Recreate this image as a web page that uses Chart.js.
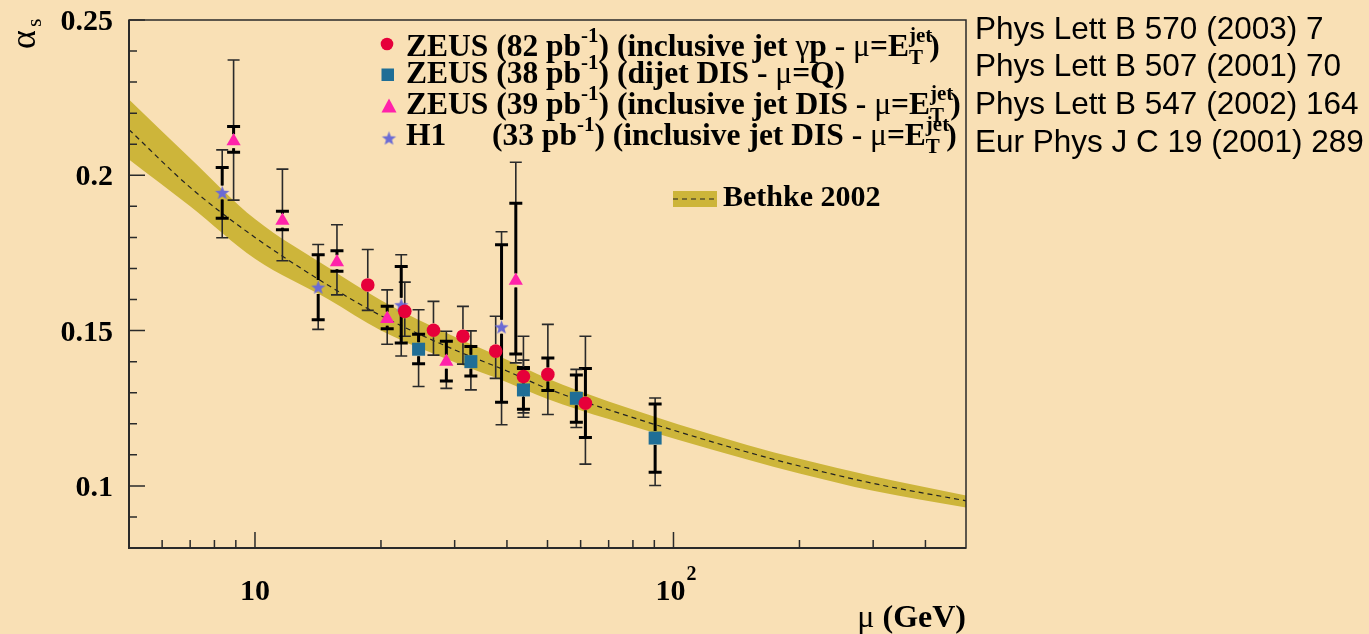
<!DOCTYPE html>
<html>
<head>
<meta charset="utf-8">
<script src="https://cdn.jsdelivr.net/npm/chart.js@4.4.0/dist/chart.umd.min.js"></script>
<style>
  html, body { margin: 0; padding: 0; background: #F9E0B5; }
  canvas { display: block; }
</style>
</head>
<body>
<canvas id="c" width="1369" height="634"></canvas>
<script>
'use strict';

// ── Bethke 2002 band ────────────────────────────────────────
const BAND_MU  = [5, 7, 10, 15, 20, 30, 40, 50, 70, 150, 200, 300, 500];
const BAND_MID = [0.2147, 0.1961, 0.1800, 0.1645, 0.1548, 0.1438, 0.1370, 0.1313, 0.1245, 0.1109, 0.1064, 0.1008, 0.0952];
const BAND_HI  = [0.2244, 0.2055, 0.1859, 0.1702, 0.1598, 0.1480, 0.1406, 0.1346, 0.1272, 0.1132, 0.1087, 0.1031, 0.0969];
const BAND_LO  = [0.2051, 0.1900, 0.1731, 0.1600, 0.1500, 0.1398, 0.1334, 0.1280, 0.1215, 0.1085, 0.1040, 0.0984, 0.0930];

// ── ZEUS 82 pb-1 inclusive jet photoproduction (circles) ────
const GP_MU     = [18.6, 22.8, 26.7, 31.4, 37.6, 43.8, 50.1, 61.6];
const GP_ALPHA  = [0.1647, 0.1562, 0.1501, 0.1482, 0.1434, 0.1352, 0.1359, 0.1266];
const GP_STAT_LO = [null, null, null, null, null, 0.1322, 0.1307, 0.1156];
const GP_STAT_HI = [null, null, null, null, null, 0.1381, 0.1412, 0.1378];
const GP_TOT_LO = [0.1565, 0.1482, 0.1421, 0.1392, 0.1346, 0.1235, 0.1230, 0.1070];
const GP_TOT_HI = [0.1761, 0.1656, 0.1594, 0.1578, 0.1546, 0.1482, 0.1520, 0.1482];

// ── ZEUS 38 pb-1 dijet DIS (squares) ────────────────────────
const DJ_MU     = [24.6, 32.8, 43.8, 58.6, 90.4];
const DJ_ALPHA  = [0.1440, 0.1400, 0.1309, 0.1282, 0.1154];
const DJ_STAT_LO = [0.1393, 0.1354, 0.1247, 0.1205, 0.1044];
const DJ_STAT_HI = [0.1488, 0.1449, 0.1378, 0.1357, 0.1264];
const DJ_TOT_LO = [0.1320, 0.1309, 0.1221, 0.1188, 0.1001];
const DJ_TOT_HI = [0.1567, 0.1499, 0.1405, 0.1375, 0.1283];

// ── ZEUS 39 pb-1 inclusive jet DIS (triangles) ──────────────
const IJ_MU     = [8.89, 11.63, 15.7, 20.7, 28.66, 42.0];
const IJ_ALPHA  = [0.2110, 0.1854, 0.1720, 0.1538, 0.1400, 0.1661];
const IJ_STAT_LO = [0.2074, 0.1825, 0.1691, 0.1506, 0.1338, 0.1425];
const IJ_STAT_HI = [0.2157, 0.1884, 0.1757, 0.1578, 0.1466, 0.1910];
const IJ_TOT_LO = [0.1920, 0.1725, 0.1615, 0.1456, 0.1314, 0.1396];
const IJ_TOT_HI = [0.2371, 0.2020, 0.1841, 0.1631, 0.1498, 0.2042];

// ── H1 33 pb-1 inclusive jet DIS (stars) ────────────────────
const H1_MU     = [8.35, 14.16, 22.36, 38.83];
const H1_ALPHA  = [0.1945, 0.1640, 0.1583, 0.1512];
const H1_STAT_LO = [0.1862, 0.1535, 0.1460, 0.1269];
const H1_STAT_HI = [0.2025, 0.1744, 0.1706, 0.1776];
const H1_TOT_LO = [0.1799, 0.1504, 0.1418, 0.1197];
const H1_TOT_HI = [0.2082, 0.1777, 0.1744, 0.1818];

// ── Axis ticks ──────────────────────────────────────────────
const Y_MAJOR  = [0.1, 0.15, 0.2, 0.25];
const Y_LABELS = ['0.1', '0.15', '0.2', '0.25'];
const Y_MINOR  = [0.09, 0.11, 0.12, 0.13, 0.14, 0.16, 0.17, 0.18, 0.19, 0.21, 0.22, 0.23, 0.24];
const X_MAJOR  = [10, 100];
const X_MINOR  = [6, 7, 8, 9, 20, 30, 40, 50, 60, 70, 80, 90, 200, 300, 400];

const REFS = ['Phys Lett B 570 (2003) 7', 'Phys Lett B 507 (2001) 70',
              'Phys Lett B 547 (2002) 164', 'Eur Phys J C 19 (2001) 289'];

// ── Colours ─────────────────────────────────────────────────
const BG       = '#F9E0B5';
const BAND_COL = '#CDB53A';
const C_RED    = '#E6003A';
const C_BLUE   = '#1F6E96';
const C_PINK   = '#FF22AA';
const C_STAR   = '#6B6BD4';

const SERIF = '"Liberation Serif", "DejaVu Serif", serif';
const SANS  = '"Liberation Sans", Arial, sans-serif';

const pts = (xs, ys) => xs.map((x, i) => ({ x, y: ys[i] }));

// five-pointed star marker
const makeStar = (r, col) => {
    const c = document.createElement('canvas');
    c.width = c.height = Math.ceil(r * 2 + 2);
    const g = c.getContext('2d');
    g.translate(c.width / 2, c.height / 2 + r * 0.1);
    g.beginPath();
    for (let k = 0; k < 10; k++) {
        const rr = k % 2 ? r * 0.42 : r;
        const a = -Math.PI / 2 + k * Math.PI / 5;
        g.lineTo(rr * Math.cos(a), rr * Math.sin(a));
    }
    g.closePath();
    g.fillStyle = col;
    g.fill();
    return c;
};
const STAR_IMG = makeStar(7.5, C_STAR);

const SERIES = [
    { mu: GP_MU, a: GP_ALPHA, sLo: GP_STAT_LO, sHi: GP_STAT_HI, tLo: GP_TOT_LO, tHi: GP_TOT_HI },
    { mu: DJ_MU, a: DJ_ALPHA, sLo: DJ_STAT_LO, sHi: DJ_STAT_HI, tLo: DJ_TOT_LO, tHi: DJ_TOT_HI },
    { mu: IJ_MU, a: IJ_ALPHA, sLo: IJ_STAT_LO, sHi: IJ_STAT_HI, tLo: IJ_TOT_LO, tHi: IJ_TOT_HI },
    { mu: H1_MU, a: H1_ALPHA, sLo: H1_STAT_LO, sHi: H1_STAT_HI, tLo: H1_TOT_LO, tHi: H1_TOT_HI },
];
const DASH_IDX = 2;

// ── Rich text helper (super/subscripts) ─────────────────────
const MAIN_FONT = 'bold 31.5px ' + SERIF;
const SMALL_FONT = 'bold 21px ' + SERIF;

const drawRich = (ctx, x, y, segs) => {
    segs.forEach(s => {
        if (s.at) { x = s.at; return; }
        if (s.stack) {
            ctx.font = SMALL_FONT;
            const w1 = ctx.measureText(s.stack[0]).width;
            const w2 = ctx.measureText(s.stack[1]).width;
            ctx.fillText(s.stack[0], x, y - 14);
            ctx.fillText(s.stack[1], x, y + 8);
            x += Math.max(w1, w2) - 3;
            return;
        }
        ctx.font = s.f || MAIN_FONT;
        ctx.fillText(s.t, x, y + (s.dy || 0));
        x += ctx.measureText(s.t).width;
    });
};

const SUP  = t => ({ t, f: SMALL_FONT, dy: -14 });
const GRK  = t => ({ t, f: '31.5px ' + SERIF });

const LEGEND_LINES = [
    [{ t: 'ZEUS (82 pb' }, SUP('-1'), { t: ') (inclusive jet ' }, GRK('γ'), { t: 'p - ' }, GRK('μ'), { t: '=E' }, { stack: ['jet', 'T'] }, { t: ')' }],
    [{ t: 'ZEUS (38 pb' }, SUP('-1'), { t: ') (dijet DIS - ' }, GRK('μ'), { t: '=Q)' }],
    [{ t: 'ZEUS (39 pb' }, SUP('-1'), { t: ') (inclusive jet DIS - ' }, GRK('μ'), { t: '=E' }, { stack: ['jet', 'T'] }, { t: ')' }],
    [{ t: 'H1' }, { at: 492 }, { t: '(33 pb' }, SUP('-1'), { t: ') (inclusive jet DIS - ' }, GRK('μ'), { t: '=E' }, { stack: ['jet', 'T'] }, { t: ')' }],
];
const LEGEND_BASE = [56, 83, 114, 145];

// ── Plugins ─────────────────────────────────────────────────
const background = {
    id: 'background',
    beforeDraw(chart) {
        const { ctx } = chart;
        ctx.save();
        ctx.fillStyle = BG;
        ctx.fillRect(0, 0, chart.width, chart.height);
        ctx.restore();
    }
};

const errorBars = {
    id: 'errorBars',
    afterDatasetDraw(chart, args) {
        if (args.index !== DASH_IDX) return;
        const { ctx, scales: { x, y } } = chart;
        const gap = 7;
        const bar = (px, py, lo, hi, lw, col, half) => {
            const yl = y.getPixelForValue(lo), yh = y.getPixelForValue(hi);
            ctx.strokeStyle = col;
            ctx.lineWidth = lw;
            ctx.beginPath();
            if (yh < py - gap) { ctx.moveTo(px, py - gap); ctx.lineTo(px, yh); }
            if (yl > py + gap) { ctx.moveTo(px, py + gap); ctx.lineTo(px, yl); }
            ctx.moveTo(px - half, yh); ctx.lineTo(px + half, yh);
            ctx.moveTo(px - half, yl); ctx.lineTo(px + half, yl);
            ctx.stroke();
        };
        ctx.save();
        ctx.lineCap = 'butt';
        SERIES.forEach(s => s.mu.forEach((m, i) => {
            const px = x.getPixelForValue(m), py = y.getPixelForValue(s.a[i]);
            bar(px, py, s.tLo[i], s.tHi[i], 1.6, '#2a2a2a', 6);
            if (s.sLo[i] != null) bar(px, py, s.sLo[i], s.sHi[i], 3, '#000', 6.5);
        }));
        ctx.restore();
    }
};

const frame = {
    id: 'frame',
    afterDatasetsDraw(chart) {
        const { ctx, chartArea: a, scales: { x, y } } = chart;
        ctx.save();
        ctx.strokeStyle = '#2a2a2a';
        ctx.lineWidth = 1.5;
        ctx.strokeRect(a.left, a.top, a.right - a.left, a.bottom - a.top);
        ctx.lineWidth = 2;
        ctx.beginPath();
        ctx.moveTo(a.left, a.top); ctx.lineTo(a.left, a.bottom); ctx.lineTo(a.right, a.bottom);
        ctx.stroke();

        ctx.lineWidth = 1.5;
        ctx.beginPath();
        Y_MINOR.forEach(v => { const p = y.getPixelForValue(v); ctx.moveTo(a.left, p); ctx.lineTo(a.left + 8, p); });
        Y_MAJOR.forEach(v => { const p = y.getPixelForValue(v); ctx.moveTo(a.left, p); ctx.lineTo(a.left + 16, p); });
        X_MINOR.forEach(v => { const p = x.getPixelForValue(v); ctx.moveTo(p, a.bottom); ctx.lineTo(p, a.bottom - 8); });
        X_MAJOR.forEach(v => { const p = x.getPixelForValue(v); ctx.moveTo(p, a.bottom); ctx.lineTo(p, a.bottom - 16); });
        ctx.stroke();

        // tick labels
        ctx.fillStyle = '#000';
        ctx.font = 'bold 30px ' + SERIF;
        ctx.textAlign = 'right';
        ctx.textBaseline = 'alphabetic';
        Y_MAJOR.forEach((v, i) => ctx.fillText(Y_LABELS[i], a.left - 16, y.getPixelForValue(v) + 10));

        ctx.textAlign = 'center';
        const p10 = x.getPixelForValue(X_MAJOR[0]);
        ctx.fillText('10', p10, 600);
        const p100 = x.getPixelForValue(X_MAJOR[1]);
        ctx.fillText('10', p100 - 3, 600);
        ctx.font = 'bold 20px ' + SERIF;
        ctx.textAlign = 'left';
        ctx.fillText('2', p100 + 13, 580);

        // axis titles
        ctx.textAlign = 'right';
        ctx.font = 'bold 32px ' + SERIF;
        const gev = ' (GeV)';
        ctx.fillText(gev, a.right, 627);
        const gw = ctx.measureText(gev).width;
        ctx.font = '32px ' + SERIF;
        ctx.fillText('μ', a.right - gw, 627);

        ctx.save();
        ctx.translate(35, 49);
        ctx.rotate(-Math.PI / 2);
        ctx.textAlign = 'left';
        ctx.font = '36px ' + SERIF;
        ctx.fillText('α', 0, 0);
        ctx.font = '22px ' + SERIF;
        ctx.fillText('s', 22, 6);
        ctx.restore();

        // legend
        ctx.textAlign = 'left';
        LEGEND_LINES.forEach((segs, i) => drawRich(ctx, 406, LEGEND_BASE[i], segs));

        ctx.fillStyle = C_RED;
        ctx.beginPath(); ctx.arc(387, 44, 6.3, 0, Math.PI * 2); ctx.fill();
        ctx.fillStyle = C_BLUE;
        ctx.fillRect(381.5, 68.5, 12.5, 12.5);
        ctx.fillStyle = C_PINK;
        ctx.beginPath(); ctx.moveTo(389, 98.5); ctx.lineTo(396.5, 112.5); ctx.lineTo(381.5, 112.5); ctx.closePath(); ctx.fill();
        ctx.drawImage(STAR_IMG, 389 - STAR_IMG.width / 2, 138 - STAR_IMG.height / 2);

        // Bethke legend
        ctx.fillStyle = BAND_COL;
        ctx.fillRect(673, 191, 44, 16);
        ctx.strokeStyle = '#222';
        ctx.lineWidth = 1.2;
        ctx.setLineDash([5, 4]);
        ctx.beginPath(); ctx.moveTo(673, 199); ctx.lineTo(717, 199); ctx.stroke();
        ctx.setLineDash([]);
        ctx.fillStyle = '#000';
        ctx.font = 'bold 30px ' + SERIF;
        ctx.fillText('Bethke 2002', 723, 206);

        // references on the right
        ctx.font = '31.5px ' + SANS;
        const refBase = [39, 76, 114, 152];
        REFS.forEach((t, i) => ctx.fillText(t, 975, refBase[i]));
        ctx.restore();
    }
};

// ── Chart ───────────────────────────────────────────────────
const markerSet = (xs, ys, style, col, radius) => ({
    data: pts(xs, ys),
    pointStyle: style,
    pointRadius: radius,
    pointHoverRadius: radius,
    pointBackgroundColor: col,
    pointBorderColor: col,
    pointBorderWidth: 0,
    showLine: false,
    order: 0,
});

new Chart(document.getElementById('c'), {
    type: 'scatter',
    data: {
        datasets: [
            { type: 'line', data: pts(BAND_MU, BAND_HI), borderWidth: 0, pointRadius: 0,
              backgroundColor: BAND_COL, fill: '+1', cubicInterpolationMode: 'monotone', order: 3 },
            { type: 'line', data: pts(BAND_MU, BAND_LO), borderWidth: 0, pointRadius: 0,
              fill: false, cubicInterpolationMode: 'monotone', order: 3 },
            { type: 'line', data: pts(BAND_MU, BAND_MID), borderColor: '#222', borderWidth: 1.2,
              borderDash: [5, 4], pointRadius: 0, fill: false, cubicInterpolationMode: 'monotone', order: 2 },
            markerSet(GP_MU, GP_ALPHA, 'circle', C_RED, 6.8),
            markerSet(DJ_MU, DJ_ALPHA, 'rect', C_BLUE, 9.2),
            markerSet(IJ_MU, IJ_ALPHA, 'triangle', C_PINK, 8.2),
            markerSet(H1_MU, H1_ALPHA, STAR_IMG, C_STAR, 7.5),
        ]
    },
    options: {
        responsive: false,
        animation: false,
        events: [],
        layout: { padding: { left: 129, top: 20, right: 403, bottom: 86 } },
        plugins: { legend: { display: false }, tooltip: { enabled: false } },
        scales: {
            x: {
                type: 'logarithmic', min: 5, max: 500,
                grid: { display: false }, border: { display: false },
                ticks: { display: false },
                afterFit: s => { s.height = 0; }
            },
            y: {
                type: 'linear', min: 0.08, max: 0.25,
                grid: { display: false }, border: { display: false },
                ticks: { display: false },
                afterFit: s => { s.width = 0; }
            }
        }
    },
    plugins: [background, errorBars, frame]
});
</script>
</body>
</html>
